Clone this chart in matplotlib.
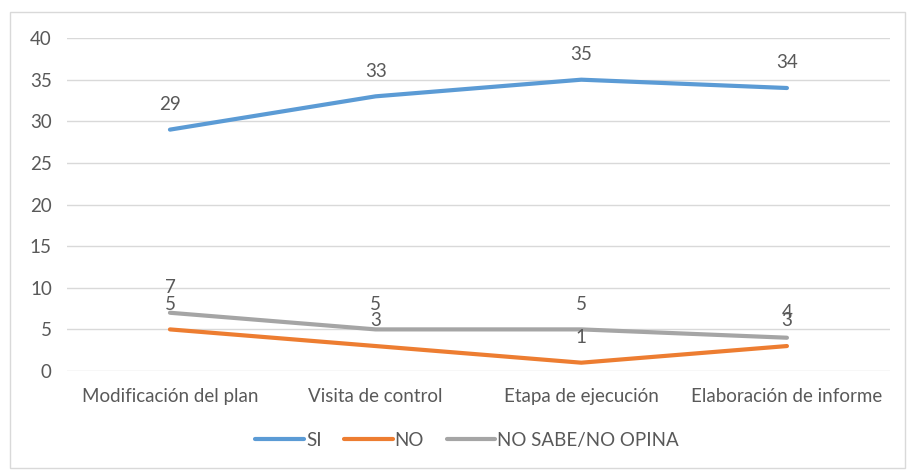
import matplotlib.pyplot as plt
from matplotlib.patches import Rectangle

categories = ["Modificación del plan", "Visita de control", "Etapa de ejecución", "Elaboración de informe"]
si = [29, 33, 35, 34]
no = [5, 3, 1, 3]
nsno = [7, 5, 5, 4]

series = [
    ("SI", si, "#5B9BD5"),
    ("NO", no, "#ED7D31"),
    ("NO SABE/NO OPINA", nsno, "#A5A5A5"),
]

plt.rcParams["font.family"] = ["Lato", "DejaVu Sans"]
txt = "#595959"
fs = 13.5

fig = plt.figure(figsize=(9.07, 4.70), dpi=100)
ax = fig.add_axes([0.074, 0.2106, 0.907, 0.7084])

# light chart-area border
fig.patches.append(Rectangle((10 / 907, 2 / 470), 895 / 907, 456 / 470,
                             transform=fig.transFigure, fill=False,
                             edgecolor="#D9D9D9", linewidth=1))

x = list(range(len(categories)))
for name, vals, col in series:
    ax.plot(x, vals, color=col, linewidth=3.0, solid_capstyle="round", label=name)
    for xi, v in zip(x, vals):
        ax.annotate(str(v), (xi, v), xytext=(0, 12), textcoords="offset points",
                    ha="center", va="bottom", fontsize=fs, color=txt)

ax.set_xlim(-0.5, len(categories) - 0.5)
ax.set_ylim(0, 40)
ax.set_yticks(range(0, 41, 5))
ax.set_xticks(x)
ax.set_xticklabels(categories)
ax.yaxis.grid(True, color="#D9D9D9", linewidth=1)
ax.set_axisbelow(True)
for s in ax.spines.values():
    s.set_visible(False)
ax.tick_params(length=0, labelsize=fs, labelcolor=txt)
ax.tick_params(axis="x", pad=12)
ax.tick_params(axis="y", pad=11)

leg = fig.legend(loc="center", bbox_to_anchor=(0.515, 0.063), ncol=3, frameon=False,
                 fontsize=fs, handlelength=2.6, handletextpad=0.1, columnspacing=1.2)
for t in leg.get_texts():
    t.set_color(txt)

fig.savefig("out.png", dpi=100)
